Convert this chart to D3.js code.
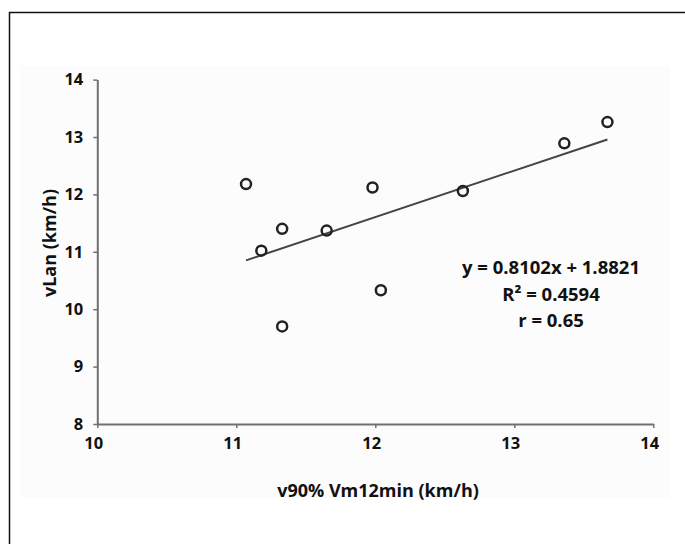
<!DOCTYPE html>
<html>
<head>
<meta charset="utf-8">
<script src="https://cdn.jsdelivr.net/npm/d3@7"></script>
<style>
  body { margin: 0; background: #fff; }
  svg text { font-family: "Open Sans", "Noto Sans", sans-serif; font-weight: 700; fill: #111; }
</style>
</head>
<body>
<div id="chart"></div>
<script>
// values
const xVals = [11.07, 11.98, 11.33, 11.65, 11.18, 12.04, 11.33, 12.63, 13.36, 13.67];
const yVals = [12.18, 12.12, 11.40, 11.37, 11.02, 10.33, 9.70, 12.06, 12.89, 13.26];
const xTicks = [10, 11, 12, 13, 14];
const yTicks = [8, 9, 10, 11, 12, 13, 14];
const slope = 0.8102;
const intercept = 1.8821;
const statLines = ["y = 0.8102x + 1.8821", "R² = 0.4594", "r = 0.65"];
const xTitle = "v90% Vm12min (km/h)";
const yTitle = "vLan (km/h)";

const width = 685, height = 544;
const svg = d3.select('#chart').append('svg')
  .attr('width', width).attr('height', height);

// outer frame (runs off the right/bottom edge)
svg.append('rect')
  .attr('x', 9.5).attr('y', 12.5).attr('width', 720).attr('height', 600)
  .attr('fill', '#fff').attr('stroke', '#111').attr('stroke-width', 1.5);

// faint panel behind the plot
svg.append('rect')
  .attr('x', 20).attr('y', 66).attr('width', 650).attr('height', 432)
  .attr('fill', '#fcfcfc');

const x = d3.scaleLinear().domain([10, 14]).range([97.3, 653.3]);
const y = d3.scaleLinear().domain([8, 14]).range([424, 79.6]);

const xAxis = svg.append('g')
  .attr('transform', `translate(0,${y(8)})`)
  .call(d3.axisBottom(x).tickValues(xTicks).tickSize(4).tickSizeOuter(0).tickPadding(9).tickFormat(d3.format('d')));

const yAxis = svg.append('g')
  .attr('transform', `translate(${x(10)},0)`)
  .call(d3.axisLeft(y).tickValues(yTicks).tickSize(4).tickSizeOuter(0).tickPadding(10).tickFormat(d3.format('d')));

[xAxis, yAxis].forEach(a => {
  a.attr('font-family', null).attr('font-size', null);
  a.select('.domain').attr('stroke', '#707070').attr('stroke-width', 2);
  a.selectAll('.tick line').attr('stroke', '#707070').attr('stroke-width', 1.5);
  a.selectAll('.tick text')
    .attr('font-size', 16.5).attr('fill', '#111');
});
xAxis.selectAll('.tick text').attr('dx', -4);

// trend line over the range of the data
const xMin = d3.min(xVals), xMax = d3.max(xVals);
svg.append('line')
  .attr('x1', x(xMin)).attr('y1', y(slope * xMin + intercept))
  .attr('x2', x(xMax)).attr('y2', y(slope * xMax + intercept))
  .attr('stroke', '#444').attr('stroke-width', 2);

// points
svg.append('g').selectAll('circle')
  .data(xVals.map((v, i) => [v, yVals[i]]))
  .join('circle')
  .attr('cx', d => x(d[0])).attr('cy', d => y(d[1]))
  .attr('r', 5)
  .attr('fill', 'none')
  .attr('stroke', '#222')
  .attr('stroke-width', 2.5);

// regression text
svg.append('g').selectAll('text')
  .data(statLines)
  .join('text')
  .attr('x', 551).attr('y', (d, i) => 274 + i * 26.5)
  .attr('text-anchor', 'middle')
  .attr('font-size', 18.5)
  .text(d => d);

// axis titles
svg.append('text')
  .attr('x', 378).attr('y', 497)
  .attr('text-anchor', 'middle')
  .attr('font-size', 18)
  .text(xTitle);

svg.append('text')
  .attr('transform', `translate(56,243) rotate(-90)`)
  .attr('text-anchor', 'middle')
  .attr('font-size', 18)
  .text(yTitle);
</script>
</body>
</html>
